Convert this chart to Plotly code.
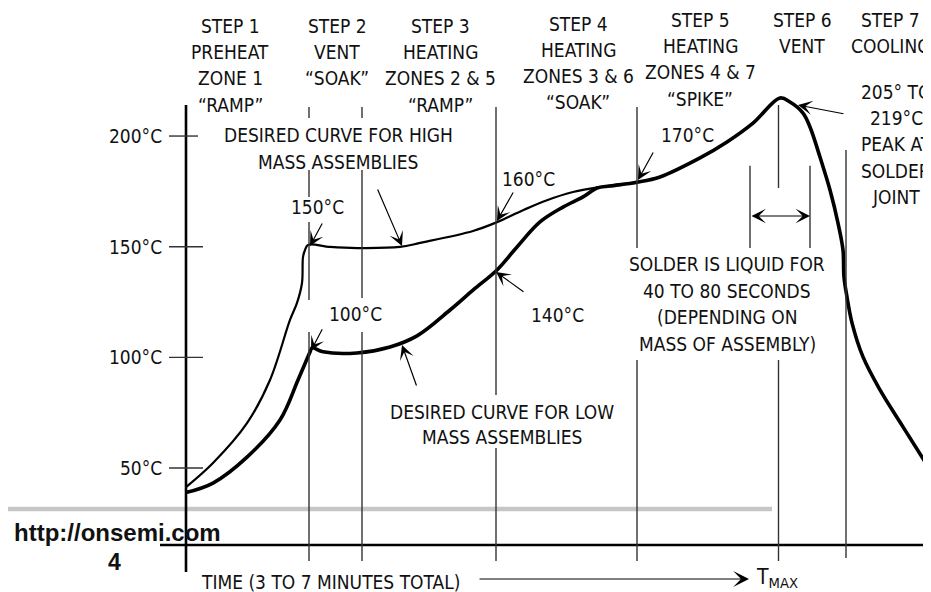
import plotly.graph_objects as go

# ---------------- data ----------------
# time in seconds, temperature in degC
high_t = [0, 10.8, 24.4, 33.6, 41.6, 44.4, 46.4, 46.8, 47.6, 48.8, 57.6, 68.4, 85.6, 93.6,
          114.8, 124.4, 134.8, 144.4, 154.8, 165.6, 180.4]
high_T = [41.4, 52.3, 70.3, 89.8, 116.9, 124.6, 133.6, 145.3, 148.5, 150.8, 149.9, 149.4, 149.9, 151.7,
          157.1, 161.1, 166.5, 171.0, 174.7, 176.9, 178.8]

low_t = [0, 10.8, 24.4, 37.6, 44.8, 49.6, 50.4, 54.8, 68.4, 81.6, 92.4, 105.6, 114.8, 124.4,
         132.4, 141.6, 150.8, 158.8, 164.4, 169.6, 180.4, 189.6, 205.6, 216.4, 226.8, 237.6,
         241.6, 246.8, 249.6, 253.6, 257.6, 260.8, 262.8, 263.2, 264.4, 266.4, 270.8, 277.6,
         286.8, 297.6]
low_T = [38.9, 43.2, 54.9, 71.7, 89.8, 102.4, 104.3, 102.5, 102.0, 104.7, 109.7, 121.4, 130.4, 139.5,
         149.9, 161.2, 167.9, 172.5, 176.5, 177.4, 179.1, 181.5, 190.1, 197.3, 205.8, 217.2,
         215.4, 210.4, 204.1, 190.5, 175.6, 160.7, 148.5, 136.3, 127.3, 115.6, 100.2, 85.3,
         68.6, 49.2]

step_t = [49.2, 70.4, 124.0, 180.4, 237.0, 264.0]
# visible pieces of each step divider (temperature ranges)
step_segments = [
    [(213.1, 208.1), (184.6, 172.5), (161.2, 125.9), (111.5, 8.0)],
    [(213.1, 208.1), (184.6, 126.8), (111.5, 8.0)],
    [(213.1, 83.0), (59.0, 8.0)],
    [(213.1, 149.4), (98.8, 8.0)],
    [(214.0, 176.5), (98.8, 8.0)],
    [(193.7, 9.4)],
]
liquid_t = [225.6, 249.6]
liquid_T = [186.6, 149.4]

ytick_vals = [200, 150, 100, 50]
ytick_text = ["200°C", "150°C", "100°C", "50°C"]

step_labels = [
    ["STEP 1", "PREHEAT", "ZONE 1", "\u201cRAMP\u201d"],
    ["STEP 2", "VENT", "\u201cSOAK\u201d"],
    ["STEP 3", "HEATING", "ZONES 2 &amp; 5", "\u201cRAMP\u201d"],
    ["STEP 4", "HEATING", "ZONES 3 &amp; 6", "\u201cSOAK\u201d"],
    ["STEP 5", "HEATING", "ZONES 4 &amp; 7", "\u201cSPIKE\u201d"],
    ["STEP 6", "VENT"],
    ["STEP 7", "COOLING"],
]

# ---------------- layout helpers (page pixel -> data) ----------------
PAGE_W, PAGE_H = 931, 592
BODY = 8                         # default page margin around the plot div
W, H = PAGE_W - BODY, PAGE_H - BODY
X0PX, PXS = 186.0, 2.5           # t=0 at page px 186, 2.5 px per second
T0PY, PYD = 578.7, 2.2133        # 0 degC at page py 578.7, 2.2133 px per degC


def X(px):
    return (px - X0PX) / PXS


def Y(py):
    return (T0PY - py) / PYD


FONT = "DejaVu Sans Condensed, DejaVu Sans, sans-serif"
BFONT = "Liberation Sans, Arial, Helvetica, sans-serif"
FS = 19
INK = "#111111"
GRID = "#333333"

fig = go.Figure()

fig.add_trace(go.Scatter(x=high_t, y=high_T, mode="lines",
                         line=dict(color="#000000", width=2.2, shape="spline", smoothing=1.0),
                         hoverinfo="skip"))
fig.add_trace(go.Scatter(x=low_t, y=low_T, mode="lines",
                         line=dict(color="#000000", width=3.6, shape="spline", smoothing=1.0),
                         hoverinfo="skip"))

shapes = []
# y axis
shapes.append(dict(type="line", xref="x", yref="y", x0=0, x1=0, y0=Y(572), y1=Y(105),
                   line=dict(color="#000", width=2.6)))
# x axis
shapes.append(dict(type="line", xref="x", yref="y", x0=X(160), x1=X(923), y0=Y(545), y1=Y(545),
                   line=dict(color="#000", width=2.6)))
# y ticks
for v in ytick_vals:
    right = X(198) if v == 200 else X(203)
    shapes.append(dict(type="line", xref="x", yref="y", x0=X(169), x1=right, y0=v, y1=v,
                       line=dict(color=GRID, width=1.4)))
# step dividers
for t, segs in zip(step_t, step_segments):
    for a, b in segs:
        shapes.append(dict(type="line", xref="x", yref="y", x0=t, x1=t, y0=a, y1=b,
                           line=dict(color=GRID, width=1.4)))
# liquid range markers
for t in liquid_t:
    shapes.append(dict(type="line", xref="x", yref="y", x0=t, x1=t, y0=liquid_T[0], y1=liquid_T[1],
                       line=dict(color=GRID, width=1.4)))
# page rule
shapes.append(dict(type="line", xref="x", yref="y", x0=X(BODY), x1=X(772), y0=Y(509), y1=Y(509),
                   line=dict(color="#c6c6c6", width=4.5), layer="below"))

ann = []


def txt(text, px, py, xanchor="center", size=FS, bold=False, family=FONT):
    ann.append(dict(text=("<b>%s</b>" % text) if bold else text, x=X(px), y=Y(py),
                    xref="x", yref="y", showarrow=False, xanchor=xanchor, yanchor="middle",
                    align="center", font=dict(family=family, size=size, color=INK)))


def block(lines, px, py0, dy=26.2):
    for i, s in enumerate(lines):
        txt(s, px, py0 + i * dy)


def arrow(tx, ty, ax, ay, size=2.0):
    ann.append(dict(text="", x=tx, y=ty, xref="x", yref="y", ax=ax, ay=ay,
                    showarrow=True, arrowhead=3, arrowsize=size, arrowwidth=1.2,
                    arrowcolor="#000", standoff=0, startstandoff=0))


# y tick labels
for v, s in zip(ytick_vals, ytick_text):
    ann.append(dict(text=s, x=X(164), y=v, xref="x", yref="y", showarrow=False,
                    xanchor="right", yanchor="middle",
                    font=dict(family=FONT, size=FS, color=INK)))

# step labels (center x px, first line y px)
step_pos = [(230, 26), (337, 26), (440, 26), (578, 23.5), (700, 20), (802, 20), (890, 20)]
for s, (px, py) in zip(step_labels, step_pos):
    block(s, px, py)

block(["DESIRED CURVE FOR HIGH", "MASS ASSEMBLIES"], 338, 135, 27)
block(["DESIRED CURVE FOR LOW", "MASS ASSEMBLIES"], 502, 411.5, 25.8)
txt("150°C", 317.5, 207)
txt("100°C", 355, 314)
txt("160°C", 528, 179)
txt("140°C", 557, 315)
txt("170°C", 687.5, 135)
block(["SOLDER IS LIQUID FOR", "40 TO 80 SECONDS", "(DEPENDING ON", "MASS OF ASSEMBLY)"],
      727, 264, 26.5)
block(["205° TO", "219°C", "PEAK AT", "SOLDER", "JOINT"], 896, 92, 26.2)
txt("TIME (3 TO 7 MINUTES TOTAL)", 330, 582)
txt("T<sub>MAX</sub>", 754, 578, xanchor="left", size=21)
txt("http://onsemi.com", 12, 532, xanchor="left", size=24, bold=True, family=BFONT)
txt("4", 114, 562, size=23, bold=True, family=BFONT)

# pointer arrows: tip in data units, tail offset in px
arrow(49.6, 150.3, 13, -24)
arrow(50.0, 103.0, 12, -23)
arrow(86.4, 150.3, -25, -58)
arrow(86.4, 105.6, 15, 42)
arrow(124.4, 161.6, 17, -30)
arrow(124.0, 138.6, 29, 21)
arrow(180.8, 180.1, 16, -29)
arrow(244.8, 214.0, 47, 9)
# liquid duration double arrow
ann.append(dict(text="", x=liquid_t[1], y=Y(216), ax=liquid_t[0], ay=Y(216),
                xref="x", yref="y", axref="x", ayref="y", showarrow=True,
                arrowhead=3, startarrowhead=3, arrowside="end+start",
                arrowsize=2.0, startarrowsize=2.0, arrowwidth=1.2, arrowcolor="#000",
                standoff=0, startstandoff=0))
# time arrow
ann.append(dict(text="", x=X(749), y=Y(579), ax=X(478), ay=Y(579),
                xref="x", yref="y", axref="x", ayref="y", showarrow=True,
                arrowhead=3, arrowsize=2.2, arrowwidth=1.2, arrowcolor="#000",
                standoff=0, startstandoff=0))

fig.update_layout(
    width=W, height=H, autosize=False,
    margin=dict(l=0, r=0, t=0, b=0, pad=0),
    paper_bgcolor="white", plot_bgcolor="white",
    showlegend=False,
    xaxis=dict(range=[X(BODY), X(PAGE_W)], visible=False, fixedrange=True),
    yaxis=dict(range=[Y(PAGE_H), Y(BODY)], visible=False, fixedrange=True),
    shapes=shapes, annotations=ann,
    font=dict(family=FONT, size=FS, color=INK),
)

fig.write_html("out.html", config={"displayModeBar": False, "staticPlot": True})
